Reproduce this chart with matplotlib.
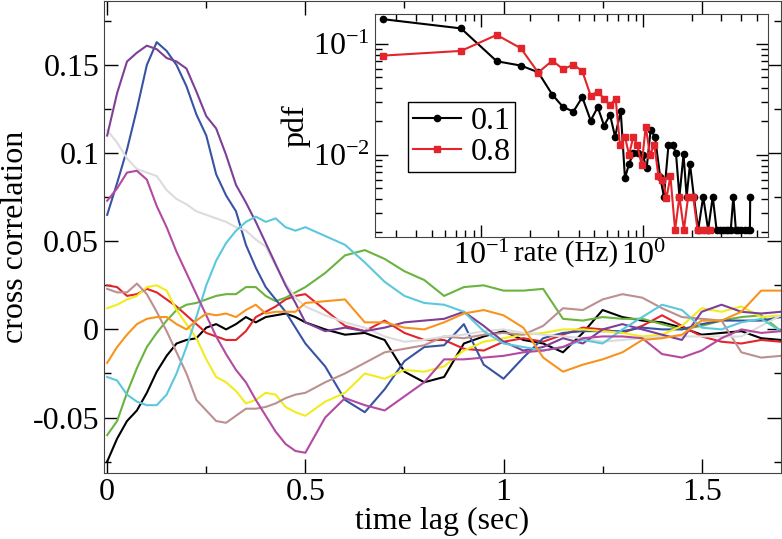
import matplotlib
matplotlib.use("Agg")
import matplotlib.pyplot as plt
from matplotlib.ticker import MultipleLocator, FuncFormatter, LogLocator, NullFormatter

plt.rcParams["font.family"] = "Liberation Serif"
plt.rcParams["mathtext.fontset"] = "custom"
plt.rcParams["mathtext.rm"] = "Liberation Serif"
plt.rcParams["mathtext.it"] = "Liberation Serif:italic"

# time lag grid (sec)
lag = [0.0, 0.025, 0.05, 0.075, 0.1, 0.125, 0.15, 0.175, 0.2, 0.225, 0.25,
       0.275, 0.3, 0.325, 0.35, 0.375, 0.4, 0.425, 0.45, 0.475, 0.5,
       0.55, 0.6, 0.65, 0.7, 0.75, 0.8, 0.85, 0.9, 0.95, 1.0, 1.05, 1.1,
       1.15, 1.2, 1.25, 1.3, 1.35, 1.4, 1.45, 1.5, 1.55, 1.6, 1.65, 1.7]

# cross correlation curves
cc_black = [-0.075, -0.062, -0.052, -0.046, -0.036, -0.024, -0.015, -0.008, -0.006, -0.005, 0.001,
            0.003, 0.000, 0.003, 0.007, 0.004, 0.007, 0.008, 0.009, 0.007, 0.004,
            0.000, -0.003, -0.002, -0.006, -0.024, -0.030, -0.027, -0.008, -0.004, -0.001, -0.006, -0.008,
            -0.013, -0.002, 0.011, 0.007, 0.005, 0.004, 0.001, -0.003, -0.002, -0.001, -0.005, -0.006]
cc_red = [0.025, 0.024, 0.019, 0.020, 0.023, 0.021, 0.017, 0.013, 0.008, 0.003, -0.002,
          -0.004, -0.006, -0.006, -0.001, 0.007, 0.010, 0.013, 0.017, 0.019, 0.020,
          0.011, 0.002, -0.001, 0.005, -0.002, -0.006, -0.006, -0.011, -0.012, -0.007, -0.005, -0.007,
          -0.003, 0.001, 0.000, -0.002, 0.002, 0.008, 0.002, -0.004, -0.007, -0.008, -0.006, -0.007]
cc_green = [-0.060, -0.052, -0.036, -0.022, -0.010, -0.002, 0.005, 0.011, 0.014, 0.015, 0.017,
            0.019, 0.020, 0.020, 0.024, 0.024, 0.019, 0.016, 0.018, 0.021, 0.024,
            0.032, 0.042, 0.045, 0.040, 0.033, 0.028, 0.019, 0.024, 0.025, 0.022, 0.022, 0.023,
            0.006, 0.005, 0.007, 0.006, 0.006, 0.003, 0.000, 0.002, 0.005, 0.007, 0.008, -0.001]
cc_blue = [0.065, 0.083, 0.102, 0.125, 0.150, 0.163, 0.158, 0.150, 0.138, 0.122, 0.110,
           0.088, 0.076, 0.067, 0.048, 0.035, 0.024, 0.017, 0.010, 0.001, -0.008,
           -0.021, -0.040, -0.047, -0.034, -0.018, -0.010, -0.009, 0.003, -0.020, -0.028, -0.016, -0.005,
           -0.002, -0.001, -0.001, -0.001, 0.001, 0.000, 0.000, 0.003, 0.005, 0.005, 0.005, 0.007]
cc_yellow = [0.012, 0.014, 0.017, 0.019, 0.024, 0.025, 0.022, 0.011, 0.003, -0.005, -0.017,
             -0.027, -0.030, -0.035, -0.042, -0.040, -0.036, -0.037, -0.044, -0.047, -0.049,
             -0.041, -0.036, -0.025, -0.028, -0.023, -0.024, -0.021, -0.012, -0.007, -0.005, -0.003, -0.002,
             0.000, 0.000, -0.001, -0.002, -0.004, -0.003, 0.002, 0.012, 0.010, 0.013, 0.007, 0.008]
cc_brown = [0.023, 0.021, 0.021, 0.026, 0.020, 0.010, -0.001, -0.013, -0.025, -0.040, -0.046,
            -0.052, -0.053, -0.049, -0.045, -0.045, -0.044, -0.042, -0.039, -0.037, -0.036,
            -0.030, -0.025, -0.019, -0.013, -0.011, -0.009, -0.004, -0.005, -0.003, -0.002, -0.003, 0.002,
            0.012, 0.011, 0.017, 0.020, 0.018, 0.012, 0.007, 0.006, 0.005, -0.013, -0.016, -0.015]
cc_grey = [0.113, 0.106, 0.097, 0.091, 0.089, 0.087, 0.079, 0.074, 0.071, 0.067, 0.065,
           0.063, 0.061, 0.058, 0.056, 0.051, 0.047, 0.036, 0.026, 0.018, 0.013,
           0.008, 0.004, 0.001, -0.004, -0.007, -0.006, -0.004, -0.003, -0.001, 0.000, -0.002, -0.003,
           -0.004, -0.005, -0.007, -0.006, -0.005, -0.004, -0.004, -0.004, -0.004, -0.004, 0.002, 0.008]
cc_violet = [0.110, 0.134, 0.152, 0.157, 0.161, 0.159, 0.154, 0.152, 0.148, 0.135, 0.121,
             0.114, 0.099, 0.082, 0.072, 0.061, 0.049, 0.037, 0.025, 0.015, 0.004,
             -0.001, 0.001, -0.001, 0.001, 0.004, 0.005, 0.006, 0.010, 0.002, -0.007, -0.012, -0.010,
             -0.005, -0.008, 0.000, 0.003, 0.000, -0.003, -0.006, 0.010, 0.014, 0.010, 0.009, 0.010]
cc_cyan = [-0.027, -0.029, -0.037, -0.041, -0.043, -0.043, -0.037, -0.025, -0.010, 0.007, 0.025,
           0.039, 0.049, 0.056, 0.061, 0.064, 0.061, 0.063, 0.058, 0.056, 0.058,
           0.053, 0.048, 0.038, 0.027, 0.019, 0.015, 0.014, 0.010, -0.001, -0.008, -0.010, -0.012,
           -0.010, -0.006, -0.008, 0.000, 0.007, 0.014, 0.011, 0.001, 0.000, 0.004, 0.006, -0.001]
cc_magenta = [0.073, 0.080, 0.089, 0.090, 0.085, 0.070, 0.058, 0.044, 0.032, 0.020, 0.008,
              -0.004, -0.014, -0.023, -0.030, -0.040, -0.049, -0.058, -0.065, -0.069, -0.070,
              -0.050, -0.039, -0.043, -0.046, -0.038, -0.030, -0.017, -0.017, -0.016, -0.015, -0.013, -0.012,
              -0.010, -0.005, -0.004, -0.004, -0.005, -0.014, -0.016, -0.012, -0.005, 0.000, -0.002, -0.001]
cc_orange = [-0.019, -0.010, -0.003, 0.003, 0.006, 0.007, 0.007, 0.003, 0.000, 0.005, 0.009,
             0.008, 0.009, 0.007, 0.011, 0.014, 0.009, 0.010, 0.010, 0.010, 0.015,
             0.016, 0.017, 0.004, 0.004, 0.001, 0.000, 0.004, 0.009, 0.011, 0.008, 0.001, -0.016,
             -0.024, -0.020, -0.017, -0.013, -0.006, -0.005, -0.003, 0.005, 0.005, 0.010, 0.022, 0.022]

# inset: rate distribution
rate_01 = [0.025, 0.0753, 0.125, 0.176, 0.225, 0.275, 0.321, 0.371, 0.421, 0.474,
           0.524, 0.573, 0.624, 0.670, 0.726, 0.771, 0.817, 0.868, 0.931, 0.99,
           1.049, 1.11, 1.18, 1.27, 1.34, 1.43, 1.52, 1.59, 1.67, 1.77,
           1.85, 1.94, 2.05, 2.18, 2.34, 2.51, 2.68, 2.83, 2.97, 3.11,
           3.22, 3.34, 3.46, 3.59, 3.72, 3.85, 4.0, 4.23, 4.40, 4.54, 4.56]
pdf_01 = [0.167, 0.138, 0.0698, 0.0638, 0.0556, 0.0349, 0.0269, 0.0246, 0.0331, 0.0204,
          0.0269, 0.0184, 0.0229, 0.0146, 0.0249, 0.00617, 0.0083, 0.0104, 0.0104, 0.0100,
          0.0076, 0.0168, 0.0146, 0.00638, 0.0042, 0.0123, 0.0123, 0.0104, 0.0042, 0.0101,
          0.0042, 0.0083, 0.0042, 0.00211, 0.0042, 0.00211, 0.0042, 0.00211, 0.00211, 0.00211,
          0.00211, 0.00211, 0.00211, 0.0042, 0.00211, 0.00211, 0.00211, 0.00211, 0.00211, 0.00211, 0.0042]
rate_08 = [0.025, 0.0753, 0.125, 0.176, 0.225, 0.275, 0.321, 0.371, 0.421, 0.474,
           0.524, 0.573, 0.624, 0.676, 0.718, 0.771, 0.817, 0.868, 0.918, 0.977,
           1.035, 1.10, 1.17, 1.24, 1.31, 1.39, 1.47, 1.57, 1.67, 1.78,
           1.89, 2.03, 2.16, 2.29, 2.43, 2.58]
pdf_08 = [0.0785, 0.0865, 0.1205, 0.0914, 0.0552, 0.0707, 0.0591, 0.0651, 0.0567, 0.0342,
          0.0372, 0.032, 0.0282, 0.032, 0.0123, 0.0146, 0.010, 0.0146, 0.0123, 0.0081,
          0.018, 0.010, 0.0123, 0.0064, 0.0060, 0.0041, 0.0064, 0.00211, 0.0042, 0.00211,
          0.0042, 0.0042, 0.00211, 0.00211, 0.00211, 0.00211]

curves = [
    (cc_black, "#000000"), (cc_red, "#e3242b"), (cc_green, "#6ab43e"),
    (cc_blue, "#3953a4"), (cc_yellow, "#f2ec1e"), (cc_brown, "#bc9090"),
    (cc_grey, "#dcdcdc"), (cc_violet, "#7d3f98"), (cc_cyan, "#5cc8dc"),
    (cc_magenta, "#b34aa0"), (cc_orange, "#f7941d"),
]

fig = plt.figure(figsize=(7.82, 5.39), dpi=100)
ax = fig.add_axes([0.133, 0.1224, 0.8657, 0.8756])

for vals, col in curves:
    ax.plot(lag, vals, color=col, lw=1.5)

ax.set_xlim(-0.008, 1.70)
ax.set_ylim(-0.0815, 0.1863)
ax.xaxis.set_major_locator(MultipleLocator(0.5))
ax.xaxis.set_minor_locator(MultipleLocator(0.25))
ax.yaxis.set_major_locator(MultipleLocator(0.05))
ax.yaxis.set_minor_locator(MultipleLocator(0.025))
fmt = FuncFormatter(lambda v, p: "%g" % round(v, 4))
ax.xaxis.set_major_formatter(fmt)
ax.yaxis.set_major_formatter(fmt)
ax.tick_params(which="both", direction="in", top=True, right=True, labelsize=23, width=1)
ax.tick_params(which="major", length=10)
ax.tick_params(which="minor", length=5)
ax.set_xlabel("time lag (sec)", fontsize=23, labelpad=0)
ax.set_ylabel("cross correlation", fontsize=23, labelpad=2)
for s in ax.spines.values():
    s.set_color("#444444")

# inset
ins = fig.add_axes([0.4795, 0.5603, 0.5026, 0.4137])
ins.plot(rate_01, pdf_01, color="black", lw=1.5, marker="o", ms=4.5, label="0.1")
ins.plot(rate_08, pdf_08, color="#e3242b", lw=1.5, marker="s", ms=3.8, label="0.8")
ins.set_xscale("log")
ins.set_yscale("log")
ins.set_xlim(0.0222, 5.87)
ins.set_ylim(0.00182, 0.186)
ins.xaxis.set_major_locator(LogLocator(base=10, numticks=10))
ins.yaxis.set_major_locator(LogLocator(base=10, numticks=10))
ins.xaxis.set_minor_locator(LogLocator(base=10, subs=range(2, 10), numticks=20))
ins.yaxis.set_minor_locator(LogLocator(base=10, subs=range(2, 10), numticks=20))
ins.xaxis.set_minor_formatter(NullFormatter())
ins.yaxis.set_minor_formatter(NullFormatter())
ins.tick_params(which="both", direction="in", top=True, right=True, labelsize=23, width=1)
ins.tick_params(which="major", length=9)
ins.tick_params(which="minor", length=5)
ins.set_xlabel("rate (Hz)", fontsize=21)
ins.xaxis.set_label_coords(0.487, -0.012)
ins.set_ylabel("pdf", fontsize=23, labelpad=2)
for s in ins.spines.values():
    s.set_color("#444444")

leg = ins.legend(loc="upper left", bbox_to_anchor=(0.084, 0.605), fontsize=23,
                 handlelength=1.5, handletextpad=0.3, borderpad=0.15,
                 labelspacing=0.05, fancybox=False, framealpha=1,
                 edgecolor="black", borderaxespad=0)
leg.get_frame().set_linewidth(1.0)

fig.savefig("out.png", dpi=100)
